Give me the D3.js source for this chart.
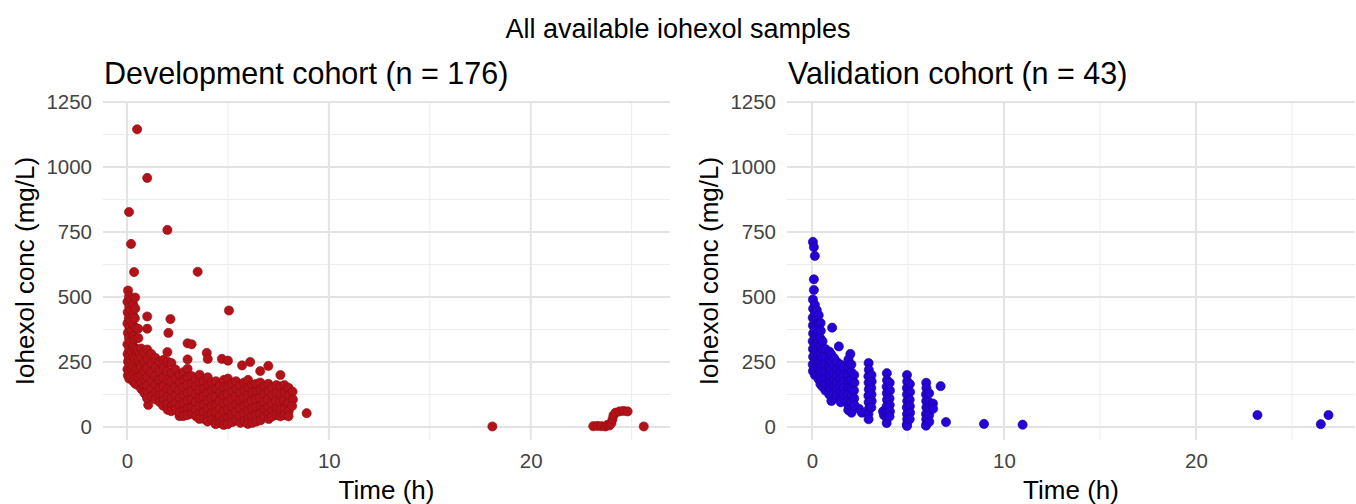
<!DOCTYPE html>
<html>
<head>
<meta charset="utf-8">
<script src="https://cdn.jsdelivr.net/npm/d3@7"></script>
<style>
  html, body { margin: 0; padding: 0; background: #ffffff; }
  svg { display: block; font-family: "Liberation Sans", Arial, Helvetica, sans-serif; }
</style>
</head>
<body>
<svg id="chart" width="1356" height="504"></svg>
<script>
// ---------------- DATA ----------------
const mainTitle = "All available iohexol samples";
const panelTitles = ["Development cohort (n = 176)", "Validation cohort (n = 43)"];
const xLabel = "Time (h)";
const yLabel = "Iohexol conc (mg/L)";
const xTicks = [0, 10, 20];
const xMinorTicks = [5, 15, 25];
const yTicks = [0, 250, 500, 750, 1000, 1250];
const yMinorTicks = [125, 375, 625, 875, 1125];

// Development cohort samples: [time (h), concentration (mg/L)]
const devSamples = [
  [0.5,1145],[1.0,958],[0.1,827],[2.0,758],[0.2,704],[0.35,596],[3.5,597],[0.05,525],
  [5.05,448],[1.0,425],[2.15,415],[1.0,378],[2.05,362],[3.0,322],[3.2,318],[3.95,285],
  [4.0,262],[3.0,260],[4.7,262],[5.0,255],[5.7,237],[6.1,250],[6.6,215],[7.0,235],
  [7.6,200],[8.9,53],[2.6,42],[1.05,85],
  [0.02,482],[0.03,441],[0.02,398],[0.04,362],[0.02,318],[0.03,281],[0.05,252],[0.02,222],[0.04,198],
  [0.1,503],[0.11,462],[0.09,418],[0.12,381],[0.1,342],[0.11,298],[0.1,268],[0.12,241],[0.1,212],[0.11,186],
  [0.2,488],[0.21,449],[0.19,412],[0.22,371],[0.2,328],[0.21,291],[0.19,257],[0.22,226],[0.2,196],
  [0.3,472],[0.31,428],[0.29,392],[0.32,349],[0.3,311],[0.31,268],[0.29,236],[0.32,202],[0.3,176],
  [0.4,498],[0.41,456],[0.39,418],[0.42,381],[0.4,338],[0.41,302],[0.39,261],[0.42,221],[0.4,186],[0.41,166],
  [0.55,378],[0.56,342],[0.54,298],[0.57,262],[0.55,224],[0.56,191],[0.54,161],
  [0.7,302],[0.71,266],[0.69,231],[0.72,198],[0.7,171],[0.71,146],
  [0.85,288],[0.86,251],[0.84,214],[0.87,181],[0.85,152],[0.86,131],
  [1.0,298],[1.02,262],[0.98,226],[1.01,191],[1.0,158],[1.02,132],[0.99,111],
  [1.2,281],[1.22,244],[1.18,211],[1.21,176],[1.2,146],[1.22,117],
  [1.4,266],[1.42,229],[1.38,196],[1.41,161],[1.4,131],[1.42,106],
  [1.6,252],[1.62,214],[1.58,181],[1.61,149],[1.6,121],[1.62,96],
  [1.8,258],[1.82,226],[1.78,189],[1.81,156],[1.8,126],[1.82,101],[1.79,82],
  [2.0,288],[2.02,251],[1.98,214],[2.01,181],[2.0,146],[2.02,116],[1.99,86],[2.01,66],
  [2.2,246],[2.22,209],[2.18,176],[2.21,141],[2.2,111],[2.22,81],[2.19,61],
  [2.4,221],[2.42,186],[2.38,151],[2.41,121],[2.4,91],[2.42,66],
  [2.6,201],[2.62,171],[2.58,141],[2.61,111],[2.6,81],[2.62,56],
  [2.8,211],[2.82,181],[2.78,151],[2.81,121],[2.8,91],[2.82,61],[2.79,42],
  [3.0,224],[3.02,191],[2.98,161],[3.01,131],[3.0,101],[3.02,71],[2.99,46],
  [3.2,196],[3.22,166],[3.18,136],[3.21,106],[3.2,76],[3.22,51],
  [3.4,186],[3.42,156],[3.38,126],[3.41,96],[3.4,66],[3.42,41],
  [3.6,201],[3.62,171],[3.58,141],[3.61,111],[3.6,81],[3.62,51],[3.59,31],
  [3.8,176],[3.82,146],[3.78,116],[3.81,86],[3.8,56],[3.82,31],
  [4.0,191],[4.02,161],[3.98,131],[4.01,101],[4.0,71],[4.02,41],[3.99,21],
  [4.2,171],[4.22,141],[4.18,111],[4.21,81],[4.2,51],[4.22,26],
  [4.4,176],[4.42,146],[4.38,116],[4.41,86],[4.4,56],[4.42,26],[4.39,11],
  [4.6,161],[4.62,131],[4.58,101],[4.61,71],[4.6,41],[4.62,16],
  [4.8,181],[4.82,151],[4.78,121],[4.81,91],[4.8,61],[4.82,31],[4.79,8],
  [5.0,186],[5.02,156],[4.98,126],[5.01,96],[5.0,66],[5.02,36],[4.99,11],
  [5.2,166],[5.22,136],[5.18,106],[5.21,76],[5.2,46],[5.22,19],
  [5.4,176],[5.42,146],[5.38,116],[5.41,86],[5.4,56],[5.42,26],
  [5.6,161],[5.62,131],[5.58,101],[5.61,71],[5.6,41],[5.62,16],
  [5.8,171],[5.82,141],[5.78,111],[5.81,81],[5.8,51],[5.82,21],
  [6.0,181],[6.02,151],[5.98,121],[6.01,91],[6.0,61],[6.02,31],[5.99,12],
  [6.2,161],[6.22,131],[6.18,101],[6.21,71],[6.2,41],[6.22,16],
  [6.4,166],[6.42,136],[6.38,106],[6.41,76],[6.4,46],[6.42,21],
  [6.6,171],[6.62,141],[6.58,111],[6.61,81],[6.6,51],[6.62,26],
  [6.8,156],[6.82,126],[6.78,96],[6.81,66],[6.8,41],
  [7.0,166],[7.02,136],[6.98,106],[7.01,76],[7.0,51],[7.02,31],
  [7.2,151],[7.22,121],[7.18,91],[7.21,61],[7.2,41],
  [7.4,161],[7.42,131],[7.38,101],[7.41,71],[7.4,46],
  [7.6,156],[7.62,126],[7.58,96],[7.61,66],[7.6,41],
  [7.8,161],[7.82,131],[7.78,101],[7.81,71],[7.8,46],
  [8.0,151],[8.02,121],[7.98,91],[8.01,61],[8.0,41],
  [8.2,136],[8.22,106],[8.18,81],
  [18.1,2],[23.1,3],[23.3,4],[23.5,3],[23.7,2],[23.8,8],[23.9,6],[24.0,15],[24.05,30],
  [24.1,45],[24.2,55],[24.4,60],[24.6,62],[24.8,60],[25.6,2]
];

// Validation cohort samples: [time (h), concentration (mg/L)]
const valSamples = [
  [0.05,712],[0.1,692],[0.15,658],[0.1,568],[0.1,527],[1.05,382],[1.4,310],[2.0,281],
  [2.45,70],[2.6,55],[6.7,157],[6.98,19],[8.96,12],[10.97,9],[23.2,46],[26.5,11],[26.9,46],
  [0.05,490],[0.06,455],[0.04,420],[0.05,390],[0.06,360],[0.04,330],[0.05,300],[0.06,270],[0.04,240],[0.05,215],
  [0.15,470],[0.16,440],[0.14,405],[0.15,375],[0.16,345],[0.14,315],[0.15,285],[0.16,255],[0.14,225],[0.15,200],
  [0.25,450],[0.26,420],[0.24,390],[0.25,355],[0.26,325],[0.24,295],[0.25,265],[0.26,235],[0.24,205],
  [0.35,430],[0.36,395],[0.34,365],[0.35,335],[0.36,305],[0.34,275],[0.35,245],[0.36,215],[0.34,185],
  [0.45,400],[0.46,370],[0.44,340],[0.45,310],[0.46,280],[0.44,250],[0.45,220],[0.46,190],[0.44,165],
  [0.55,330],[0.56,300],[0.54,270],[0.55,240],[0.56,210],[0.54,180],[0.55,155],
  [0.7,300],[0.71,270],[0.69,240],[0.7,210],[0.71,185],[0.69,160],[0.7,140],
  [0.9,290],[0.91,260],[0.89,230],[0.9,200],[0.91,175],[0.89,150],[0.9,125],
  [1.0,280],[1.01,250],[0.99,220],[1.0,195],[1.01,170],[0.99,145],[1.0,120],[1.01,100],
  [1.15,265],[1.16,235],[1.14,205],[1.15,180],[1.16,155],[1.14,130],[1.15,110],
  [1.3,250],[1.31,220],[1.29,195],[1.3,170],[1.31,145],[1.29,120],
  [1.5,240],[1.51,210],[1.49,185],[1.5,160],[1.51,135],[1.49,110],[1.5,95],
  [1.65,230],[1.66,200],[1.64,175],[1.65,150],[1.66,125],
  [1.9,260],[1.91,230],[1.89,200],[1.9,175],[1.91,150],[1.89,125],[1.9,100],[1.91,80],[1.89,65],
  [2.05,240],[2.06,210],[2.04,180],[2.05,150],[2.06,120],[2.04,95],[2.05,70],[2.06,55],
  [2.2,200],[2.21,170],[2.19,140],[2.2,110],[2.21,85],
  [2.95,246],[2.96,220],[2.94,195],[2.95,170],[2.96,145],[2.94,120],[2.95,95],[2.96,70],[2.94,50],[2.95,30],
  [3.1,200],[3.11,175],[3.09,150],[3.1,125],[3.11,100],[3.09,75],
  [3.7,60],[3.75,45],
  [3.9,207],[3.91,180],[3.89,155],[3.9,130],[3.91,105],[3.89,80],[3.9,55],[3.91,35],[3.89,15],
  [4.05,170],[4.06,140],[4.04,110],[4.05,85],[4.06,60],[4.04,40],
  [4.95,200],[4.96,175],[4.94,150],[4.95,125],[4.96,100],[4.94,75],[4.95,50],[4.96,30],[4.94,10],[4.95,4],
  [5.1,165],[5.11,135],[5.09,105],[5.1,80],[5.11,55],[5.09,30],
  [5.95,170],[5.96,150],[5.94,125],[5.95,100],[5.96,75],[5.94,50],[5.95,30],[5.96,12],[5.94,5],
  [6.1,130],[6.11,95],[6.09,70],[6.1,45],[6.11,20],
  [6.3,90],[6.31,70]
];

const panels = [
  { title: panelTitles[0], data: devSamples, fill: "#b31318", stroke: "#8c0e12",
    left: 103, right: 670, xDomain: [-1.19, 26.9] },
  { title: panelTitles[1], data: valSamples, fill: "#2503d6", stroke: "#1a0099",
    left: 787, right: 1355, xDomain: [-1.3, 28.28] }
];

// ---------------- DRAW ----------------
const svg = d3.select("#chart");
const plotTop = 102, plotBottom = 440;
const yDomain = [-50, 1250];

svg.append("text")
  .attr("x", 678).attr("y", 38)
  .attr("text-anchor", "middle")
  .attr("font-size", 27)
  .attr("fill", "#000")
  .text(mainTitle);

panels.forEach(p => {
  const x = d3.scaleLinear().domain(p.xDomain).range([p.left, p.right]);
  const y = d3.scaleLinear().domain(yDomain).range([plotBottom, plotTop]);
  const g = svg.append("g");

  // minor grid
  g.append("g").selectAll("line").data(yMinorTicks).join("line")
    .attr("x1", p.left).attr("x2", p.right)
    .attr("y1", d => y(d)).attr("y2", d => y(d))
    .attr("stroke", "#ececec").attr("stroke-width", 1);
  g.append("g").selectAll("line").data(xMinorTicks).join("line")
    .attr("x1", d => x(d)).attr("x2", d => x(d))
    .attr("y1", plotTop).attr("y2", plotBottom)
    .attr("stroke", "#ececec").attr("stroke-width", 1);
  // major grid
  g.append("g").selectAll("line").data(yTicks).join("line")
    .attr("x1", p.left).attr("x2", p.right)
    .attr("y1", d => y(d)).attr("y2", d => y(d))
    .attr("stroke", "#e3e3e3").attr("stroke-width", 2);
  g.append("g").selectAll("line").data(xTicks).join("line")
    .attr("x1", d => x(d)).attr("x2", d => x(d))
    .attr("y1", plotTop).attr("y2", plotBottom)
    .attr("stroke", "#e3e3e3").attr("stroke-width", 2);

  // axes (labels only, ggplot minimal style)
  const yAxis = d3.axisLeft(y).tickValues(yTicks).tickSize(0).tickPadding(0).tickFormat(d3.format("d"));
  const ya = g.append("g").attr("transform", `translate(${p.left - 11},0)`).call(yAxis);
  ya.select(".domain").remove();
  ya.selectAll("text").attr("font-size", 20.5).attr("fill", "#444444")
    .attr("font-family", "'Liberation Sans', Arial, sans-serif");

  const xAxis = d3.axisBottom(x).tickValues(xTicks).tickSize(0).tickPadding(0).tickFormat(d3.format("d"));
  const xa = g.append("g").attr("transform", `translate(0,${plotBottom + 13})`).call(xAxis);
  xa.select(".domain").remove();
  xa.selectAll("text").attr("font-size", 20.5).attr("fill", "#444444")
    .attr("font-family", "'Liberation Sans', Arial, sans-serif");

  // points
  g.append("g").selectAll("circle").data(p.data).join("circle")
    .attr("cx", d => x(d[0])).attr("cy", d => y(d[1]))
    .attr("r", 4.6)
    .attr("fill", p.fill).attr("stroke", p.stroke).attr("stroke-width", 0.6);

  // panel title
  svg.append("text")
    .attr("x", p.left + 1).attr("y", 84)
    .attr("font-size", 30.5).attr("fill", "#000")
    .text(p.title);

  // axis titles
  svg.append("text")
    .attr("x", (p.left + p.right) / 2).attr("y", 499)
    .attr("text-anchor", "middle")
    .attr("font-size", 26).attr("fill", "#000")
    .text(xLabel);
  svg.append("text")
    .attr("transform", `translate(${p.left - 69},${(plotTop + plotBottom) / 2}) rotate(-90)`)
    .attr("text-anchor", "middle")
    .attr("font-size", 26).attr("fill", "#000")
    .text(yLabel);
});
</script>
</body>
</html>
